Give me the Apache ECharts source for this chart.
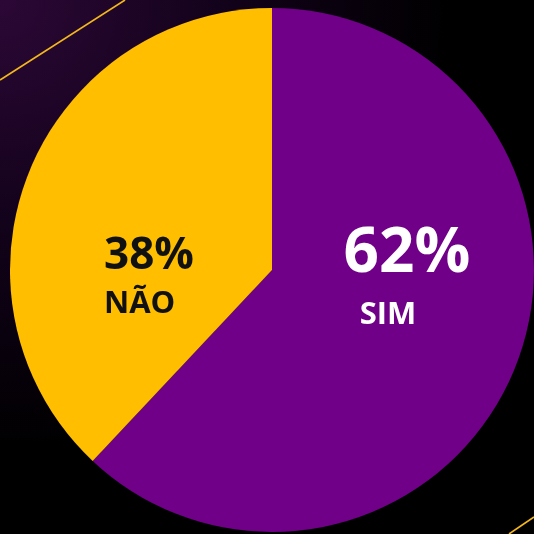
<!DOCTYPE html>
<html>
<head>
<meta charset="utf-8">
<script src="https://cdn.jsdelivr.net/npm/echarts@6/dist/echarts.min.js"></script>
<style>
  html, body { margin: 0; padding: 0; background: #000; }
  #main { width: 534px; height: 534px; }
</style>
</head>
<body>
<div id="main"></div>
<script>
// answers and their share
var categories = ["SIM", "NÃO"];
var values = [62, 38];
var colors = ["#6f0087", "#ffbf00"];
var labelColors = ["#ffffff", "#111111"];

var myChart = echarts.init(document.getElementById("main"));

var pieData = categories.map(function (name, i) {
  return {
    name: name,
    value: values[i],
    itemStyle: { color: colors[i] },
    label: { color: labelColors[i] }
  };
});

var option = {
  backgroundColor: "#000",
  animation: false,
  graphic: [
    {
      type: "rect",
      z: -10,
      shape: { x: 0, y: 0, width: 534, height: 534 },
      style: {
        fill: {
          type: "radial", x: 0, y: 0, r: 0.85,
          colorStops: [
            { offset: 0, color: "#2c0836" },
            { offset: 0.5, color: "#12021a" },
            { offset: 1, color: "#000000" }
          ]
        }
      }
    },
    // thin yellow decorative strokes
    { type: "line", shape: { x1: 0, y1: 80, x2: 125, y2: 0 }, style: { stroke: "#f4b81c", lineWidth: 1.6 } },
    { type: "line", shape: { x1: 509, y1: 534, x2: 534, y2: 517 }, style: { stroke: "#f4b81c", lineWidth: 1.6 } }
  ],
  series: [
    {
      type: "pie",
      center: [272, 270],
      radius: 262,
      startAngle: 90,
      silent: true,
      labelLine: { show: false },
      label: {
        show: true,
        position: "inside",
        fontFamily: "Open Sans",
        fontWeight: "bold",
        formatter: function (p) {
          if (p.dataIndex === 0) return "{big|" + p.value + "%}\n{nameS|" + p.name + "}";
          return "{mid|" + p.value + "%}\n{nameN|" + p.name + "}";
        },
        rich: {
          big: { fontFamily: "Open Sans", fontWeight: "bold", fontSize: 62, lineHeight: 70 },
          nameS: { fontFamily: "Open Sans", fontWeight: "bold", fontSize: 31, lineHeight: 52, padding: [0, 38, 0, 0] },
          mid: { fontFamily: "Open Sans", fontWeight: "bold", fontSize: 44, lineHeight: 50 },
          nameN: { fontFamily: "Open Sans", fontWeight: "bold", fontSize: 31, lineHeight: 46 }
        }
      },
      labelLayout: function (params) {
        if (params.dataIndex === 0) {
          return { x: 407, y: 219, align: "center", verticalAlign: "top" };
        }
        return { x: 104, y: 231, align: "left", verticalAlign: "top" };
      },
      data: pieData
    }
  ]
};

myChart.setOption(option);
</script>
</body>
</html>
